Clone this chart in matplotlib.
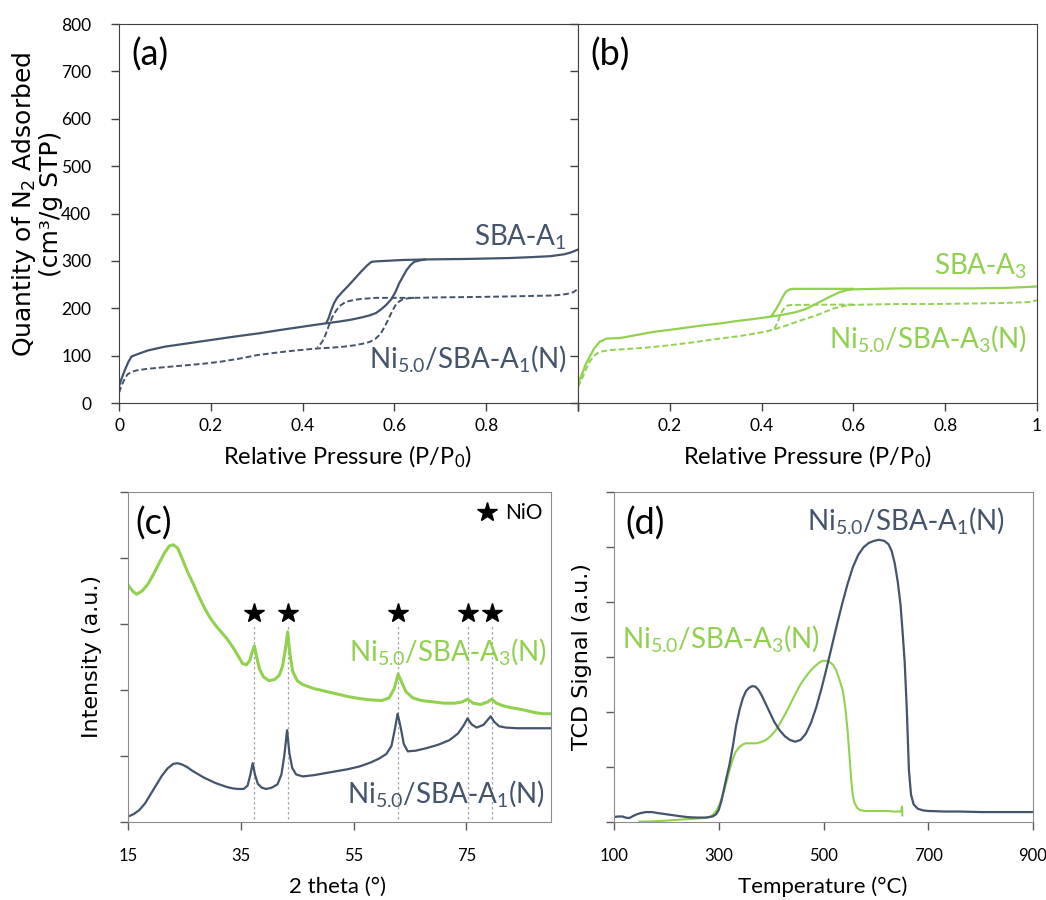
import matplotlib.pyplot as plt

plt.rcParams["font.family"] = ["Lato", "DejaVu Sans"]

NAVY = "#44546A"
GREEN = "#92D050"

# Panel (a) N2 isotherms, SBA-A1 and Ni5.0/SBA-A1(N) =====================
a1_ads_p = [0, 0.005, 0.012, 0.02, 0.027, 0.04, 0.063, 0.10, 0.143, 0.2, 0.25,
            0.304, 0.35, 0.385, 0.42, 0.449, 0.48, 0.506, 0.53, 0.546, 0.56,
            0.570, 0.582, 0.594, 0.603, 0.610, 0.618, 0.626, 0.635, 0.643,
            0.655, 0.667, 0.70, 0.75, 0.80, 0.85, 0.90, 0.94, 0.97, 0.985, 1.0]
a1_ads_q = [35, 50, 68, 86, 98, 103, 111, 119, 125, 133, 140, 147, 154, 159,
            164, 168, 172, 176, 181, 185, 190, 197, 207, 220, 236, 252, 266,
            280, 291, 298, 301, 303, 303.5, 304, 305, 306, 308, 310, 314, 318, 324]
a1_des_p = [0.667, 0.62, 0.58, 0.56, 0.550, 0.540, 0.528, 0.515, 0.50, 0.487,
            0.475, 0.468, 0.462, 0.457, 0.452]
a1_des_q = [303, 302, 300, 299, 298, 290, 278, 264, 248, 235, 222, 210, 195,
            180, 170]

ni_a1_ads_p = [0, 0.006, 0.012, 0.018, 0.028, 0.039, 0.06, 0.103, 0.15, 0.184,
               0.22, 0.264, 0.30, 0.34, 0.385, 0.43, 0.465, 0.49, 0.514, 0.535,
               0.546, 0.558, 0.570, 0.578, 0.586, 0.594, 0.602, 0.610, 0.618,
               0.630, 0.643, 0.70, 0.787, 0.85, 0.90, 0.948, 0.975, 0.99, 1.0]
ni_a1_ads_q = [22, 38, 50, 60, 66, 69, 72, 76, 80, 83, 87, 94, 101, 106, 111,
               115, 117, 119, 122, 126, 129, 135, 146, 160, 175, 192, 206, 214,
               219, 221, 222, 223, 224, 225, 226, 227, 230, 234, 241]
ni_a1_des_p = [0.643, 0.60, 0.56, 0.546, 0.53, 0.515, 0.50, 0.49, 0.481, 0.473,
               0.465, 0.457, 0.449, 0.443, 0.437, 0.432]
ni_a1_des_q = [222, 222, 222, 221, 220, 218, 215, 211, 205, 195, 182, 163, 142,
               130, 122, 118]

# Panel (b) N2 isotherms, SBA-A3 and Ni5.0/SBA-A3(N) =====================
a3_ads_p = [0, 0.008, 0.016, 0.025, 0.035, 0.047, 0.062, 0.091, 0.13, 0.163,
            0.22, 0.272, 0.31, 0.345, 0.38, 0.417, 0.45, 0.475, 0.495, 0.512,
            0.53, 0.548, 0.570, 0.585, 0.599, 0.65, 0.708, 0.78, 0.853, 0.93,
            0.98, 1.0]
a3_ads_q = [41, 60, 80, 97, 115, 129, 136, 137, 144, 150, 157, 164, 168, 173,
            177, 182, 187, 192, 198, 206, 215, 224, 234, 238, 240, 241, 242,
            242, 242, 243, 245, 246]
a3_des_p = [0.6, 0.52, 0.47, 0.461, 0.453, 0.446, 0.439, 0.432, 0.426, 0.421]
a3_des_q = [241, 241, 241, 240, 235, 224, 211, 199, 190, 183]

ni_a3_ads_p = [0, 0.008, 0.016, 0.025, 0.035, 0.047, 0.07, 0.091, 0.15, 0.2,
               0.25, 0.308, 0.35, 0.381, 0.41, 0.432, 0.455, 0.475, 0.497,
               0.519, 0.537, 0.555, 0.57, 0.584, 0.60, 0.635, 0.70, 0.78, 0.853,
               0.92, 0.983, 1.0]
ni_a3_ads_q = [34, 50, 68, 87, 100, 108, 112, 113, 117, 122, 128, 136, 141,
               146, 151, 157, 164, 171, 178, 185, 192, 199, 203, 206, 207, 208,
               209, 209, 210, 211, 213, 217]
ni_a3_des_p = [0.60, 0.52, 0.465, 0.457, 0.451, 0.446, 0.44, 0.435, 0.428]
ni_a3_des_q = [208, 207.5, 207, 206, 202, 196, 185, 171, 157]

# Panel (c) XRD ==========================================================
xrd_a3_theta = [15, 15.8, 16.5, 17.5, 18.5, 19.5, 20.5, 21.5, 22.3, 23.0, 23.8,
                24.6, 25.5, 26.5, 27.5, 28.5, 29.5, 30.5, 31.5, 32.5, 33.5,
                34.5, 35.3, 36.0, 36.6, 37.0, 37.4, 37.8, 38.3, 39.0, 40.0,
                41.0, 41.8, 42.4, 42.9, 43.3, 43.7, 44.2, 45.0, 46.0, 48.0,
                50.0, 52.0, 54.0, 56.0, 58.0, 60.0, 61.3, 62.2, 62.9, 63.5,
                64.3, 65.5, 67.0, 69.0, 71.0, 73.0, 74.3, 75.2, 76.2, 77.5,
                78.8, 79.5, 80.3, 81.5, 83.0, 85.0, 87.0, 88.5, 90.0]
xrd_a3_int = [3.59, 3.50, 3.45, 3.50, 3.60, 3.75, 3.92, 4.08, 4.18, 4.20, 4.15,
              3.99, 3.80, 3.62, 3.43, 3.25, 3.10, 2.98, 2.88, 2.78, 2.66, 2.52,
              2.40, 2.38, 2.45, 2.57, 2.67, 2.50, 2.32, 2.20, 2.14, 2.16, 2.22,
              2.36, 2.62, 2.88, 2.55, 2.28, 2.14, 2.08, 2.02, 1.98, 1.94, 1.90,
              1.87, 1.85, 1.84, 1.88, 2.02, 2.24, 2.12, 1.97, 1.88, 1.84, 1.82,
              1.80, 1.80, 1.82, 1.86, 1.80, 1.78, 1.82, 1.86, 1.80, 1.76, 1.73,
              1.70, 1.66, 1.64, 1.64]

xrd_a1_theta = [15, 16, 17, 18, 19, 20, 21, 22, 23, 23.8, 24.6, 25.5, 26.5,
                27.5, 28.5, 29.5, 30.5, 31.5, 32.5, 33.5, 34.5, 35.5, 36.2,
                36.7, 37.1, 37.5, 38.0, 38.7, 39.5, 40.5, 41.5, 42.2, 42.7,
                43.2, 43.6, 44.1, 44.8, 46.0, 48.0, 50.0, 52.0, 54.0, 56.0,
                58.0, 59.5, 60.8, 61.7, 62.3, 62.8, 63.3, 63.9, 64.6, 66.0,
                68.0, 70.0, 72.0, 73.5, 74.5, 75.2, 75.9, 76.8, 78.0, 78.8,
                79.3, 79.9, 80.8, 82.0, 84.0, 86.0, 88.0, 90.0]
xrd_a1_int = [0.08, 0.12, 0.18, 0.28, 0.42, 0.56, 0.70, 0.81, 0.88, 0.89, 0.87,
              0.83, 0.77, 0.72, 0.67, 0.63, 0.59, 0.56, 0.53, 0.51, 0.50, 0.50,
              0.55, 0.72, 0.89, 0.72, 0.58, 0.52, 0.50, 0.52, 0.57, 0.72, 1.00,
              1.39, 1.05, 0.82, 0.72, 0.69, 0.71, 0.74, 0.77, 0.80, 0.84, 0.90,
              0.96, 1.03, 1.15, 1.40, 1.64, 1.45, 1.18, 1.07, 1.08, 1.12, 1.17,
              1.24, 1.34, 1.46, 1.57, 1.48, 1.43, 1.47, 1.55, 1.60, 1.52, 1.45,
              1.43, 1.42, 1.42, 1.42, 1.42]

nio_peaks = [37.3, 43.3, 62.9, 75.2, 79.5]
star_level = 3.17

# Panel (d) H2-TPR =======================================================
tpr_a1_t = [100, 108, 116, 122, 129, 135, 141, 150, 161, 172, 185, 200, 215,
            230, 245, 260, 275, 288, 295, 300, 305, 310, 315, 320, 327, 333,
            340, 346, 352, 358, 364, 370, 376, 382, 390, 398, 406, 416, 426,
            436, 446, 456, 466, 476, 486, 496, 506, 516, 526, 536, 546, 556,
            566, 576, 586, 596, 606, 616, 624, 630, 636, 642, 647, 651, 655,
            659, 663, 667, 672, 680, 690, 700, 730, 760, 800, 840, 880, 900]
tpr_a1_sig = [0.09, 0.10, 0.10, 0.08, 0.07, 0.10, 0.13, 0.16, 0.18, 0.18, 0.16,
              0.14, 0.12, 0.10, 0.085, 0.08, 0.08, 0.10, 0.14, 0.22, 0.38,
              0.60, 0.82, 1.02, 1.38, 1.75, 2.05, 2.25, 2.38, 2.44, 2.47, 2.46,
              2.40, 2.30, 2.14, 1.98, 1.82, 1.67, 1.56, 1.49, 1.46, 1.49, 1.60,
              1.80, 2.08, 2.42, 2.80, 3.20, 3.60, 3.98, 4.33, 4.63, 4.85, 4.99,
              5.07, 5.11, 5.13, 5.11, 5.05, 4.93, 4.70, 4.35, 3.95, 3.45, 2.90,
              2.05, 0.95, 0.50, 0.32, 0.24, 0.21, 0.20, 0.19, 0.19, 0.18, 0.18,
              0.18, 0.18]

tpr_a3_t = [148, 170, 192, 215, 237, 255, 269, 280, 288, 295, 301, 308, 314,
            320, 326, 332, 339, 346, 352, 360, 371, 380, 390, 400, 409, 418,
            428, 438, 447, 456, 466, 476, 486, 492, 498, 505, 511, 518, 524,
            530, 537, 542, 546, 550, 553, 556, 559, 564, 569, 578, 588, 600,
            620, 635, 648, 650, 650.5]
tpr_a3_sig = [0.005, 0.01, 0.02, 0.035, 0.05, 0.06, 0.07, 0.08, 0.12, 0.20,
              0.31, 0.50, 0.70, 0.92, 1.12, 1.27, 1.36, 1.41, 1.43, 1.43, 1.43,
              1.45, 1.49, 1.57, 1.67, 1.81, 1.98, 2.17, 2.34, 2.50, 2.64, 2.76,
              2.85, 2.90, 2.93, 2.93, 2.91, 2.86, 2.76, 2.60, 2.38, 2.05, 1.65,
              1.15, 0.75, 0.48, 0.35, 0.26, 0.22, 0.20, 0.20, 0.20, 0.20, 0.19,
              0.19, 0.28, 0.12]

LBL_A1 = r"$\mathregular{SBA\text{-}A_1}$"
LBL_A3 = r"$\mathregular{SBA\text{-}A_3}$"
LBL_NI_A1 = r"$\mathregular{Ni_{5.0}/SBA\text{-}A_1(N)}$"
LBL_NI_A3 = r"$\mathregular{Ni_{5.0}/SBA\text{-}A_3(N)}$"

# =======================================================

fig = plt.figure(figsize=(10.46, 9), dpi=100)
ax_a = fig.add_axes([0.1138, 0.5522, 0.4388, 0.4211])
ax_b = fig.add_axes([0.5526, 0.5522, 0.4388, 0.4211])
ax_c = fig.add_axes([0.1224, 0.0867, 0.4044, 0.3667])
ax_d = fig.add_axes([0.5870, 0.0867, 0.4006, 0.3667])

# (a)
ax_a.plot(a1_ads_p, a1_ads_q, color=NAVY, lw=1.6)
ax_a.plot(a1_des_p, a1_des_q, color=NAVY, lw=1.6)
ax_a.plot(ni_a1_ads_p, ni_a1_ads_q, color=NAVY, lw=1.4, ls=(0, (3, 1.5)))
ax_a.plot(ni_a1_des_p, ni_a1_des_q, color=NAVY, lw=1.4, ls=(0, (3, 1.5)))
ax_a.set_xlim(0, 1)
ax_a.set_ylim(0, 800)
ax_a.set_xticks([0, 0.2, 0.4, 0.6, 0.8, 1.0])
ax_a.set_xticklabels(["0", "0.2", "0.4", "0.6", "0.8", ""])
ax_a.set_yticks(range(0, 801, 100))
ax_a.text(0.975, 333, LBL_A1, color=NAVY, fontsize=20, ha="right", va="baseline")
ax_a.text(0.976, 74, LBL_NI_A1, color=NAVY, fontsize=20, ha="right", va="baseline")
ax_a.text(0.026, 0.89, "(a)", transform=ax_a.transAxes, fontsize=26, va="baseline")
ax_a.set_xlabel(r"Relative Pressure ($\mathregular{P/P_0}$)", fontsize=17,
                va="center")
ax_a.xaxis.set_label_coords(0.497, -0.142)
ax_a.set_ylabel("Quantity of N$\\mathregular{_2}$ Adsorbed\n(cm³/g STP)",
                fontsize=18, family="DejaVu Sans", va="center", ha="center",
                linespacing=1.05)
ax_a.yaxis.set_label_coords(-0.180, 0.525)

# (b)
ax_b.plot(a3_ads_p, a3_ads_q, color=GREEN, lw=1.6)
ax_b.plot(a3_des_p, a3_des_q, color=GREEN, lw=1.6)
ax_b.plot(ni_a3_ads_p, ni_a3_ads_q, color=GREEN, lw=1.4, ls=(0, (3, 1.5)))
ax_b.plot(ni_a3_des_p, ni_a3_des_q, color=GREEN, lw=1.4, ls=(0, (3, 1.5)))
ax_b.set_xlim(0, 1)
ax_b.set_ylim(0, 800)
ax_b.set_xticks([0, 0.2, 0.4, 0.6, 0.8, 1.0])
ax_b.set_xticklabels(["", "0.2", "0.4", "0.6", "0.8", "1"])
ax_b.set_yticks(range(0, 801, 100))
ax_b.tick_params(axis="y", labelleft=False)
ax_b.text(0.978, 272, LBL_A3, color=GREEN, fontsize=20, ha="right", va="baseline")
ax_b.text(0.978, 118, LBL_NI_A3, color=GREEN, fontsize=20, ha="right", va="baseline")
ax_b.text(0.026, 0.89, "(b)", transform=ax_b.transAxes, fontsize=26, va="baseline")
ax_b.set_xlabel(r"Relative Pressure ($\mathregular{P/P_0}$)", fontsize=17,
                va="center")
ax_b.xaxis.set_label_coords(0.50, -0.142)

for ax in (ax_a, ax_b):
    for s in ax.spines.values():
        s.set_color("#404040")
    ax.tick_params(direction="out", length=6, width=1, color="#404040",
                   labelsize=12.5)
    ax.tick_params(axis="x", pad=5)
    ax.tick_params(axis="y", pad=14)

# (c)
ax_c.vlines(nio_peaks, 0.05, 3.0, colors="#a6a6a6", lw=0.9,
            linestyles=(0, (2, 2)))
ax_c.plot(xrd_a3_theta, xrd_a3_int, color=GREEN, lw=2.2)
ax_c.plot(xrd_a1_theta, xrd_a1_int, color=NAVY, lw=1.6)
ax_c.plot(nio_peaks, [star_level] * len(nio_peaks), "*", color="black", ms=15)
ax_c.plot([78.6], [4.70], "*", color="black", ms=15)
ax_c.text(81.8, 4.59, "NiO", fontsize=15, va="baseline")
ax_c.text(89.3, 2.45, LBL_NI_A3, color=GREEN, fontsize=20, ha="right", va="baseline")
ax_c.text(88.9, 0.30, LBL_NI_A1, color=NAVY, fontsize=20, ha="right", va="baseline")
ax_c.text(0.017, 0.872, "(c)", transform=ax_c.transAxes, fontsize=26, va="baseline")
ax_c.set_xlim(15, 90)
ax_c.set_ylim(0, 5)
ax_c.set_xticks([15, 35, 55, 75])
ax_c.set_yticks(range(0, 6))
ax_c.set_xlabel("2 theta (°)", fontsize=16, va="center")
ax_c.xaxis.set_label_coords(0.496, -0.197)
ax_c.set_ylabel("Intensity (a.u.)", fontsize=16, family="DejaVu Sans",
                va="center", ha="center")
ax_c.yaxis.set_label_coords(-0.085, 0.5)

# (d)
ax_d.plot(tpr_a3_t, tpr_a3_sig, color=GREEN, lw=1.5)
ax_d.plot(tpr_a1_t, tpr_a1_sig, color=NAVY, lw=1.6)
ax_d.text(846, 5.31, LBL_NI_A1, color=NAVY, fontsize=20, ha="right", va="baseline")
ax_d.text(115, 3.18, LBL_NI_A3, color=GREEN, fontsize=20, ha="left", va="baseline")
ax_d.text(0.026, 0.872, "(d)", transform=ax_d.transAxes, fontsize=26, va="baseline")
ax_d.set_xlim(100, 900)
ax_d.set_ylim(0, 6)
ax_d.set_xticks([100, 300, 500, 700, 900])
ax_d.set_yticks(range(0, 7))
ax_d.set_xlabel("Temperature (°C)", fontsize=16, va="center")
ax_d.xaxis.set_label_coords(0.499, -0.197)
ax_d.set_ylabel("TCD Signal (a.u.)", fontsize=16, family="DejaVu Sans",
                va="center", ha="center")
ax_d.yaxis.set_label_coords(-0.076, 0.5)

for ax in (ax_c, ax_d):
    for s in ax.spines.values():
        s.set_color("#8c8c8c")
    ax.tick_params(direction="out", length=6, width=1, color="#595959",
                   labelsize=12, labelleft=False)
    ax.tick_params(axis="x", pad=13)

fig.savefig("out.png", dpi=100)
